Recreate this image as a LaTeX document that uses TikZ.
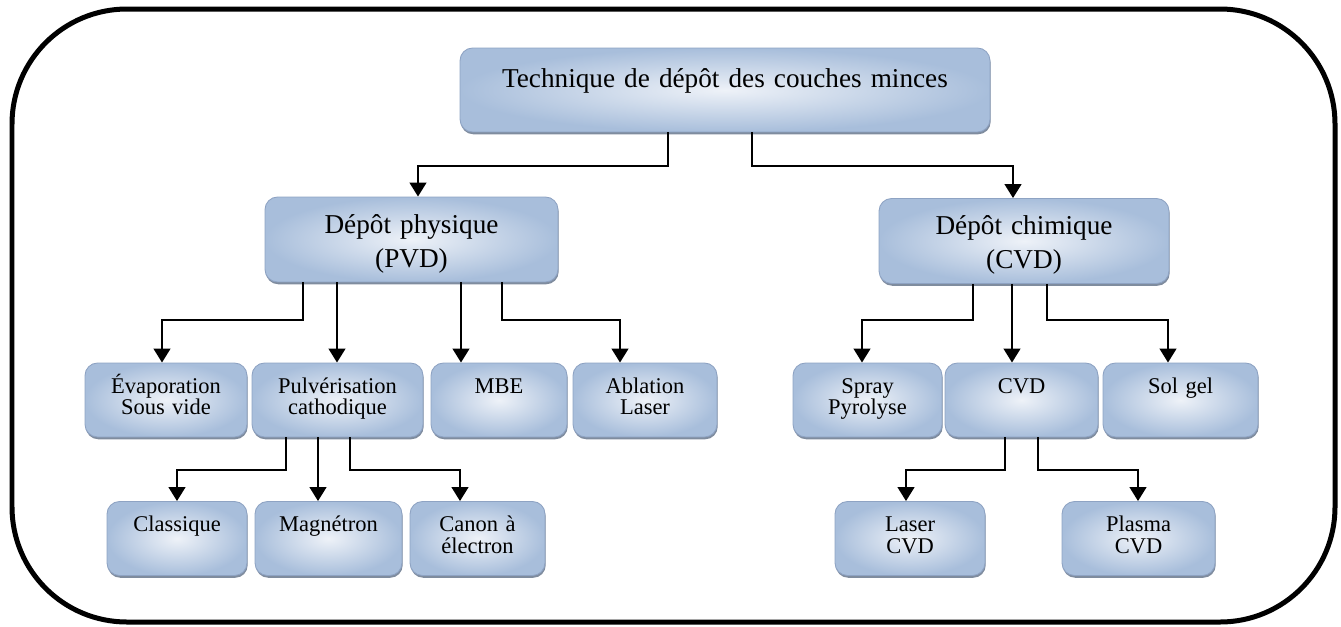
\documentclass[tikz,border=0pt]{standalone}
\usepackage{fontspec}
\setmainfont{Liberation Serif}
\usetikzlibrary{arrows.meta,shadows}
\definecolor{boxlight}{HTML}{EEF2F8}
\definecolor{boxdark}{HTML}{A8BEDB}
\definecolor{boxedge}{HTML}{8EA3C3}
\definecolor{boxshade}{HTML}{5F6F86}
\tikzset{
  box/.style={draw=boxedge, line width=0.5pt, rounded corners=0.25cm, inner sep=0pt,
    align=center, inner color=boxlight, outer color=boxdark,
    drop shadow={shadow xshift=0.4pt, shadow yshift=-1.3pt, fill=boxshade, opacity=0.8}},
  head/.style={box, font=\fontsize{15.5}{19.5}\selectfont, text width=#1},
  leaf/.style={box, font=\fontsize{12.8}{12.3}\selectfont, text width=#1,
    text height=0.6cm, text depth=0.88cm},
  arr/.style={line width=1.4pt, -{Triangle[length=8pt,width=9.5pt]}},
}
\begin{document}
\begin{tikzpicture}[x=0.02cm, y=-0.02cm]
\useasboundingbox (0,0) rectangle (1341,626);
\draw[line width=0.1cm, rounded corners=2.3cm] (12,9) rectangle (1335,622);

% first two levels
\node[head=10.6cm, text height=0.78cm, text depth=0.9cm] (tech) at (725,90) {Technique de dépôt des couches minces};
\node[head=5.86cm, text height=0.72cm, text depth=0.98cm] (pvd) at (411.5,239.5) {Dépôt physique\\(PVD)};
\node[head=5.8cm, text height=0.72cm, text depth=0.98cm] (cvd) at (1024,241) {Dépôt chimique\\(CVD)};

% methods
\node[leaf=3.24cm] (evap) at (166,400) {Évaporation\\Sous vide};
\node[leaf=3.42cm] (pulv) at (337.5,400) {Pulvérisation\\cathodique};
\node[leaf=2.72cm] (mbe) at (499,400) {MBE};
\node[leaf=2.88cm] (abl) at (645,400) {Ablation\\Laser};
\node[leaf=2.98cm] (spray) at (867.5,400) {Spray\\Pyrolyse};
\node[leaf=3.06cm] (cvdm) at (1021.5,400) {CVD};
\node[leaf=3.1cm] (sol) at (1180.5,400) {Sol gel};

% sub-methods
\node[leaf=2.8cm] (clas) at (177,538.5) {Classique};
\node[leaf=2.94cm] (magn) at (328.5,538.5) {Magnétron};
\node[leaf=2.7cm] (canon) at (477.5,538.5) {Canon à\\électron};
\node[leaf=3cm] (lcvd) at (910,538.5) {Laser\\CVD};
\node[leaf=3.06cm] (pcvd) at (1138.5,538.5) {Plasma\\CVD};

% connectors
\draw[arr] (tech.south -| 668,0) |- (418,166) -- (pvd.north -| 418,0);
\draw[arr] (tech.south -| 752,0) |- (1013,166) -- (cvd.north -| 1013,0);

\draw[arr] (pvd.south -| 303,0) |- (162,320) -- (evap.north -| 162,0);
\draw[arr] (pvd.south -| 337,0) -- (pulv.north -| 337,0);
\draw[arr] (pvd.south -| 461,0) -- (mbe.north -| 461,0);
\draw[arr] (pvd.south -| 502,0) |- (620,320) -- (abl.north -| 620,0);

\draw[arr] (pulv.south -| 286,0) |- (177,470) -- (clas.north -| 177,0);
\draw[arr] (pulv.south -| 318,0) -- (magn.north -| 318,0);
\draw[arr] (pulv.south -| 350,0) |- (460,470) -- (canon.north -| 460,0);

\draw[arr] (cvd.south -| 973,0) |- (862,320) -- (spray.north -| 862,0);
\draw[arr] (cvd.south -| 1012,0) -- (cvdm.north -| 1012,0);
\draw[arr] (cvd.south -| 1047,0) |- (1168,320) -- (sol.north -| 1168,0);

\draw[arr] (cvdm.south -| 1005,0) |- (906,470) -- (lcvd.north -| 906,0);
\draw[arr] (cvdm.south -| 1038,0) |- (1138,470) -- (pcvd.north -| 1138,0);
\end{tikzpicture}
\end{document}
